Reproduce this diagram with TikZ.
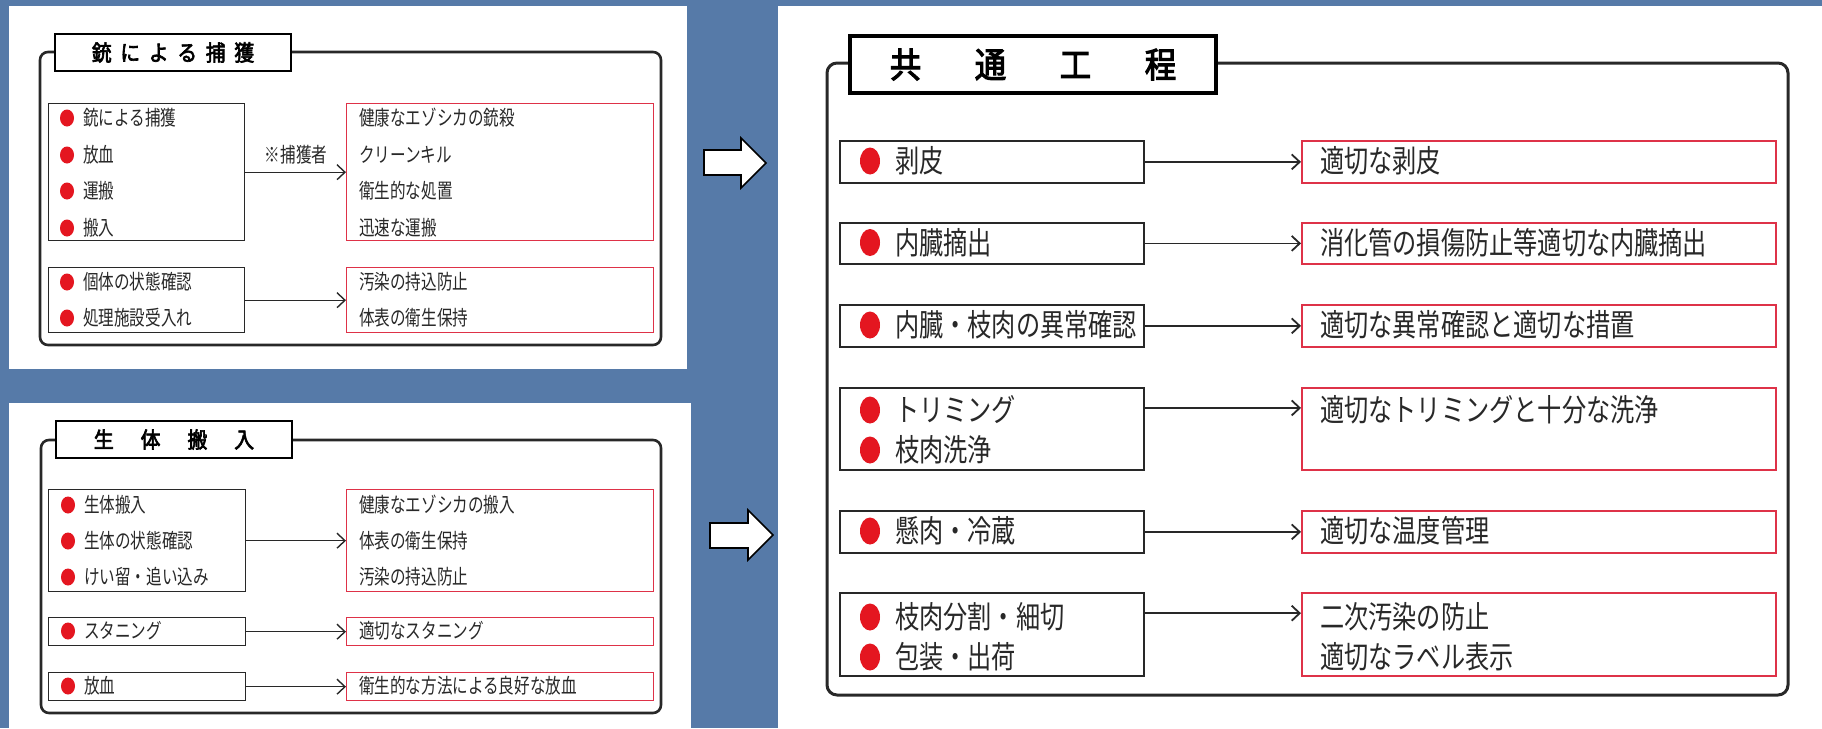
\documentclass[tikz,border=0pt]{standalone}
\usepackage{fontspec}
\usetikzlibrary{arrows.meta,calc,shapes.geometric}
\newfontfamily\jps[FakeStretch=0.76]{Noto Sans CJK JP}
\newfontfamily\jpl[FakeStretch=0.78]{Noto Sans CJK JP}
\newfontfamily\jpt[FakeStretch=0.9,FakeBold=3]{Noto Sans CJK JP}
\definecolor{bgblue}{RGB}{86,122,168}
\definecolor{redline}{RGB}{222,50,72}
\definecolor{bulred}{RGB}{228,22,32}
\definecolor{ink}{RGB}{40,40,40}
\begin{document}
\begin{tikzpicture}[x=1pt,y=-1pt,
 panel/.style={fill=white,draw=none},
 frame/.style={draw=ink,line width=2.6pt,rounded corners=8pt},
 titlebox/.style={draw=black,fill=white,line width=2.8pt,inner sep=0pt,text=black},
 lbox/.style={draw=ink,line width=1.4pt,inner sep=0pt,anchor=north west},
 rbox/.style={draw=redline,line width=1.4pt,inner sep=0pt,anchor=north west},
 bulS/.style={ellipse,fill=bulred,inner sep=0pt,minimum width=14pt,minimum height=17pt},
 bulL/.style={ellipse,fill=bulred,inner sep=0pt,minimum width=20pt,minimum height=27pt},
 txtS/.style={anchor=west,inner sep=0pt,text=ink,font=\jps\fontsize{20.5pt}{20.5pt}\selectfont},
 txtL/.style={anchor=west,inner sep=0pt,text=ink,font=\jpl\fontsize{31pt}{31pt}\selectfont},
 conn/.style={draw=ink,line width=1.4pt,-{Straight Barb[length=8pt,width=15pt]}},
 blockarrow/.style={draw=black,fill=white,line width=1.6pt,line join=miter},
]
\useasboundingbox (0,0) rectangle (1822,728);
\fill[bgblue] (0,0) rectangle (1822,728);

% ---------------- panel 1 ----------------
\fill[panel] (9,6) rectangle (687,369);
\draw[frame] (40,52) rectangle (661,345);
\node[titlebox,minimum width=236pt,minimum height=37pt,font=\jpt\fontsize{22pt}{22pt}\selectfont] (t1) at (173,52.5)
 {銃\hspace{8.7pt}に\hspace{8.7pt}よ\hspace{8.7pt}る\hspace{8.7pt}捕\hspace{8.7pt}獲};
\node[lbox,minimum width=196pt,minimum height=137pt] (g1L) at (48,103) {};
\node[rbox,minimum width=307pt,minimum height=137pt] (g1R) at (346,103) {};
\node[lbox,minimum width=196pt,minimum height=65pt] (g2L) at (48,267) {};
\node[rbox,minimum width=307pt,minimum height=65pt] (g2R) at (346,267) {};
\node[bulS] (g1b1) at (67,118) {}; \node[txtS] (g1t1) at (83,118) {銃による捕獲};
\node[bulS] (g1b2) at (67,155) {}; \node[txtS] (g1t2) at (83,155) {放血};
\node[bulS] (g1b3) at (67,191) {}; \node[txtS] (g1t3) at (83,191) {運搬};
\node[bulS] (g1b4) at (67,228) {}; \node[txtS] (g1t4) at (83,228) {搬入};
\node[txtS] (g1r1) at (359,118) {健康なエゾシカの銃殺};
\node[txtS] (g1r2) at (359,155) {クリーンキル};
\node[txtS] (g1r3) at (359,191) {衛生的な処置};
\node[txtS] (g1r4) at (359,228) {迅速な運搬};
\node[txtS,anchor=center] (g1lab) at (296,155) {※捕獲者};
\node[bulS] (g2b1) at (67,282) {}; \node[txtS] (g2t1) at (83,282) {個体の状態確認};
\node[bulS] (g2b2) at (67,318) {}; \node[txtS] (g2t2) at (83,318) {処理施設受入れ};
\node[txtS] (g2r1) at (359,282) {汚染の持込防止};
\node[txtS] (g2r2) at (359,318) {体表の衛生保持};
\draw[conn] (g1L.east) -- (g1L.east -| g1R.west);
\draw[conn] (g2L.east) -- (g2L.east -| g2R.west);

% ---------------- panel 2 ----------------
\fill[panel] (9,403) rectangle (691,728);
\draw[frame] (41,440) rectangle (661,713);
\node[titlebox,minimum width=236pt,minimum height=37pt,font=\jpt\fontsize{22pt}{22pt}\selectfont] (t2) at (174,439.5)
 {生\hspace{27pt}体\hspace{27pt}搬\hspace{27pt}入};
\node[lbox,minimum width=197pt,minimum height=102pt] (h1L) at (48,489) {};
\node[rbox,minimum width=307pt,minimum height=102pt] (h1R) at (346,489) {};
\node[lbox,minimum width=197pt,minimum height=28pt] (h2L) at (48,617) {};
\node[rbox,minimum width=307pt,minimum height=28pt] (h2R) at (346,617) {};
\node[lbox,minimum width=197pt,minimum height=28pt] (h3L) at (48,672) {};
\node[rbox,minimum width=307pt,minimum height=28pt] (h3R) at (346,672) {};
\node[bulS] (h1b1) at (68,505) {}; \node[txtS] (h1t1) at (84,505) {生体搬入};
\node[bulS] (h1b2) at (68,541) {}; \node[txtS] (h1t2) at (84,541) {生体の状態確認};
\node[bulS] (h1b3) at (68,577) {}; \node[txtS] (h1t3) at (84,577) {けい留・追い込み};
\node[txtS] (h1r1) at (359,505) {健康なエゾシカの搬入};
\node[txtS] (h1r2) at (359,541) {体表の衛生保持};
\node[txtS] (h1r3) at (359,577) {汚染の持込防止};
\node[bulS] (h2b1) at (68,631) {}; \node[txtS] (h2t1) at (84,631) {スタニング};
\node[txtS] (h2r1) at (359,631) {適切なスタニング};
\node[bulS] (h3b1) at (68,686) {}; \node[txtS] (h3t1) at (84,686) {放血};
\node[txtS] (h3r1) at (359,686) {衛生的な方法による良好な放血};
\draw[conn] (h1L.east) -- (h1L.east -| h1R.west);
\draw[conn] (h2L.east) -- (h2L.east -| h2R.west);
\draw[conn] (h3L.east) -- (h3L.east -| h3R.west);

% ---------------- block arrows ----------------
\draw[blockarrow] (704,150) -- (741,150) -- (741,138) -- (766,163) -- (741,188) -- (741,175) -- (704,175) -- cycle;
\draw[blockarrow] (710,523) -- (748,523) -- (748,510) -- (773,535) -- (748,560) -- (748,548) -- (710,548) -- cycle;

% ---------------- panel 3 ----------------
\fill[panel] (778,6) rectangle (1822,728);
\draw[frame,rounded corners=10pt,line width=3pt] (827,63) rectangle (1788,695);
\node[titlebox,line width=3.2pt,minimum width=366pt,minimum height=57pt,font=\jpt\fontsize{35pt}{35pt}\selectfont] (t3) at (1033,64.5)
 {共\hspace{53.5pt}通\hspace{53.5pt}工\hspace{53.5pt}程};
\node[lbox,line width=1.8pt,minimum width=304pt,minimum height=42pt] (r1L) at (839,140) {};
\node[rbox,line width=1.8pt,minimum width=474pt,minimum height=42pt] (r1R) at (1301,140) {};
\node[lbox,line width=1.8pt,minimum width=304pt,minimum height=41pt] (r2L) at (839,222) {};
\node[rbox,line width=1.8pt,minimum width=474pt,minimum height=41pt] (r2R) at (1301,222) {};
\node[lbox,line width=1.8pt,minimum width=304pt,minimum height=42pt] (r3L) at (839,304) {};
\node[rbox,line width=1.8pt,minimum width=474pt,minimum height=42pt] (r3R) at (1301,304) {};
\node[lbox,line width=1.8pt,minimum width=304pt,minimum height=82pt] (r4L) at (839,387) {};
\node[rbox,line width=1.8pt,minimum width=474pt,minimum height=82pt] (r4R) at (1301,387) {};
\node[lbox,line width=1.8pt,minimum width=304pt,minimum height=42pt] (r5L) at (839,510) {};
\node[rbox,line width=1.8pt,minimum width=474pt,minimum height=42pt] (r5R) at (1301,510) {};
\node[lbox,line width=1.8pt,minimum width=304pt,minimum height=83pt] (r6L) at (839,592) {};
\node[rbox,line width=1.8pt,minimum width=474pt,minimum height=83pt] (r6R) at (1301,592) {};

\node[bulL] (r1b1) at (870,161) {}; \node[txtL] (r1t1) at (895,161) {剥皮};
\node[txtL] (r1r1) at (1320,161) {適切な剥皮};
\node[bulL] (r2b1) at (870,242.5) {}; \node[txtL] (r2t1) at (895,242.5) {内臓摘出};
\node[txtL] (r2r1) at (1320,242.5) {消化管の損傷防止等適切な内臓摘出};
\node[bulL] (r3b1) at (870,325) {}; \node[txtL] (r3t1) at (895,325) {内臓・枝肉の異常確認};
\node[txtL] (r3r1) at (1320,325) {適切な異常確認と適切な措置};
\node[bulL] (r4b1) at (870,410) {}; \node[txtL] (r4t1) at (895,410) {トリミング};
\node[bulL] (r4b2) at (870,450) {}; \node[txtL] (r4t2) at (895,450) {枝肉洗浄};
\node[txtL] (r4r1) at (1320,410) {適切なトリミングと十分な洗浄};
\node[bulL] (r5b1) at (870,531) {}; \node[txtL] (r5t1) at (895,531) {懸肉・冷蔵};
\node[txtL] (r5r1) at (1320,531) {適切な温度管理};
\node[bulL] (r6b1) at (870,617) {}; \node[txtL] (r6t1) at (895,617) {枝肉分割・細切};
\node[bulL] (r6b2) at (870,657) {}; \node[txtL] (r6t2) at (895,657) {包装・出荷};
\node[txtL] (r6r1) at (1320,617) {二次汚染の防止};
\node[txtL] (r6r2) at (1320,657) {適切なラベル表示};

\draw[conn,line width=1.8pt] (r1L.east) -- (r1L.east -| r1R.west);
\draw[conn,line width=1.8pt] (r2L.east) -- (r2L.east -| r2R.west);
\draw[conn,line width=1.8pt] (r3L.east) -- (r3L.east -| r3R.west);
\draw[conn,line width=1.8pt] ($(r4L.north east)!0.25!(r4L.south east)$) -- ($(r4R.north west)!0.25!(r4R.south west)$);
\draw[conn,line width=1.8pt] (r5L.east) -- (r5L.east -| r5R.west);
\draw[conn,line width=1.8pt] ($(r6L.north east)!0.25!(r6L.south east)$) -- ($(r6R.north west)!0.25!(r6R.south west)$);
\end{tikzpicture}
\end{document}
